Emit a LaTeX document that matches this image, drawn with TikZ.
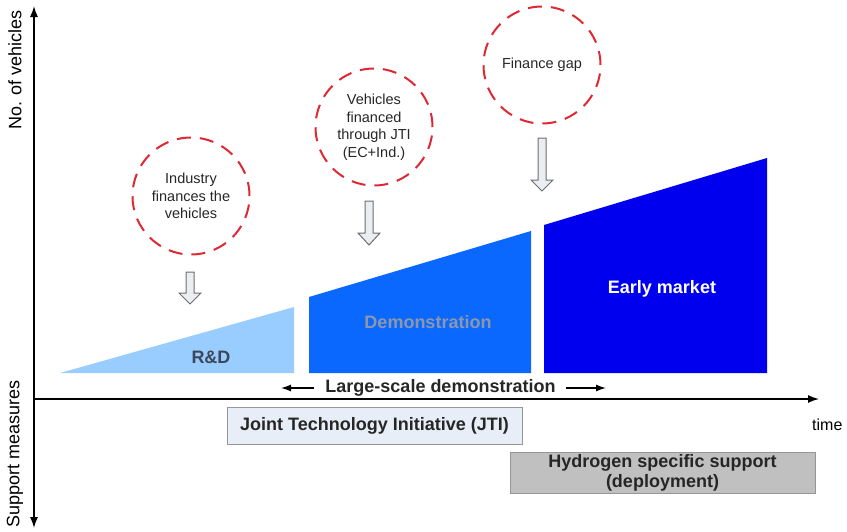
\documentclass[tikz,border=0pt]{standalone}
\usepackage{fontspec}
\setmainfont{Liberation Sans}
\usetikzlibrary{arrows.meta}
\definecolor{rdblue}{RGB}{153,204,255}
\definecolor{demoblue}{RGB}{10,104,255}
\definecolor{mktblue}{RGB}{0,0,238}
\definecolor{ringred}{RGB}{222,40,50}
\definecolor{demotext}{RGB}{140,152,170}
\definecolor{rdtext}{RGB}{60,72,90}
\definecolor{jtifill}{RGB}{232,238,248}
\definecolor{boxline}{RGB}{150,150,150}
\definecolor{h2fill}{RGB}{192,192,192}
\definecolor{hollowfill}{RGB}{234,237,242}
\definecolor{hollowline}{RGB}{110,110,110}
\newcommand{\bigtext}{\fontsize{18}{20}\selectfont}
\newcommand{\ringtext}{\fontsize{14.5}{17.5}\selectfont}
% hollow down arrow: centre x, top y, head start y, tip y
\newcommand{\hollowdown}[4]{%
  \draw[hollowshape] (#1-4,#2) -- (#1+4,#2) -- (#1+4,#3) -- (#1+11,#3)
    -- (#1,#4) -- (#1-11,#3) -- (#1-4,#3) -- cycle;}
\tikzset{
  axis/.style={line width=1.3pt, -{Latex[length=11pt,width=8pt]}},
  ring/.style={circle, draw=ringred, line width=2pt, dash pattern=on 14pt off 9pt,
    minimum size=117pt, inner sep=0pt, align=center, font=\ringtext, text=black!85},
  hollowshape/.style={fill=hollowfill, draw=hollowline, line width=1pt, line join=miter},
  phase/.style={font=\bigtext\bfseries},
  measure/.style={draw=boxline, line width=0.8pt, font=\bigtext\bfseries, align=center,
    inner sep=0pt, text=black!85},
  span/.style={line width=1.3pt, -{Latex[length=10pt,width=7pt]}}
}
\begin{document}
\begin{tikzpicture}[x=1pt, y=-1pt]
\useasboundingbox (0,0) rectangle (847,531);

% axes
\coordinate (origin) at (34,399);
\coordinate (ytop) at (34,6);
\coordinate (ybottom) at (34,528);
\coordinate (xend) at (819,399);
\draw[axis] (origin) -- (ytop);
\draw[axis] (origin) -- (ybottom);
\draw[axis] (origin) -- (xend);
\node[font=\bigtext, rotate=90] (ylabel) at (15,70) {No. of vehicles};
\node[font=\bigtext, rotate=90] (slabel) at (15,454) {Support measures};
\node[font=\fontsize{16}{18}\selectfont, anchor=west, inner sep=0pt] (time) at (812,425) {time};

% growth phases
\fill[rdblue] (60,373) -- (294,307) -- (294,373) -- cycle;
\fill[demoblue] (309,373) -- (309,297) -- (531,231) -- (531,373) -- cycle;
\fill[mktblue] (544,373) -- (544,225) -- (767,158) -- (767,373) -- cycle;
\node[phase, text=rdtext] (rd) at (211,357) {R\&D};
\node[phase, text=demotext] (demo) at (428,322) {Demonstration};
\node[phase, text=white] (market) at (662,289) {Early market};

% financing notes
\node[ring] (industry) at (191,196) {Industry\\finances the\\vehicles};
\node[ring] (jti) at (374,127) {Vehicles\\financed\\through JTI\\(EC+Ind.)};
\node[ring] (gap) at (542,65) {Finance gap};
\hollowdown{190}{272}{293}{304}
\hollowdown{369}{201}{233}{245}
\hollowdown{542}{138}{180}{191}

% large-scale demonstration span
\node[phase, text=black!85, inner sep=0pt] (lsd) at (440.5,388) {Large-scale demonstration};
\coordinate (lsdleft) at (281,388);
\coordinate (lsdright) at (606,388);
\draw[span] ([xshift=-11pt]lsd.west) -- (lsdleft);
\draw[span] ([xshift=10pt]lsd.east) -- (lsdright);

% support measures
\node[measure, fill=jtifill, minimum width=295pt, minimum height=37pt] (jtibox) at (374.5,425.5)
  {Joint Technology Initiative (JTI)};
\node[measure, fill=h2fill, minimum width=305pt, minimum height=41pt] (h2box) at (662.5,472.5)
  {Hydrogen specific support\\(deployment)};
\end{tikzpicture}
\end{document}
